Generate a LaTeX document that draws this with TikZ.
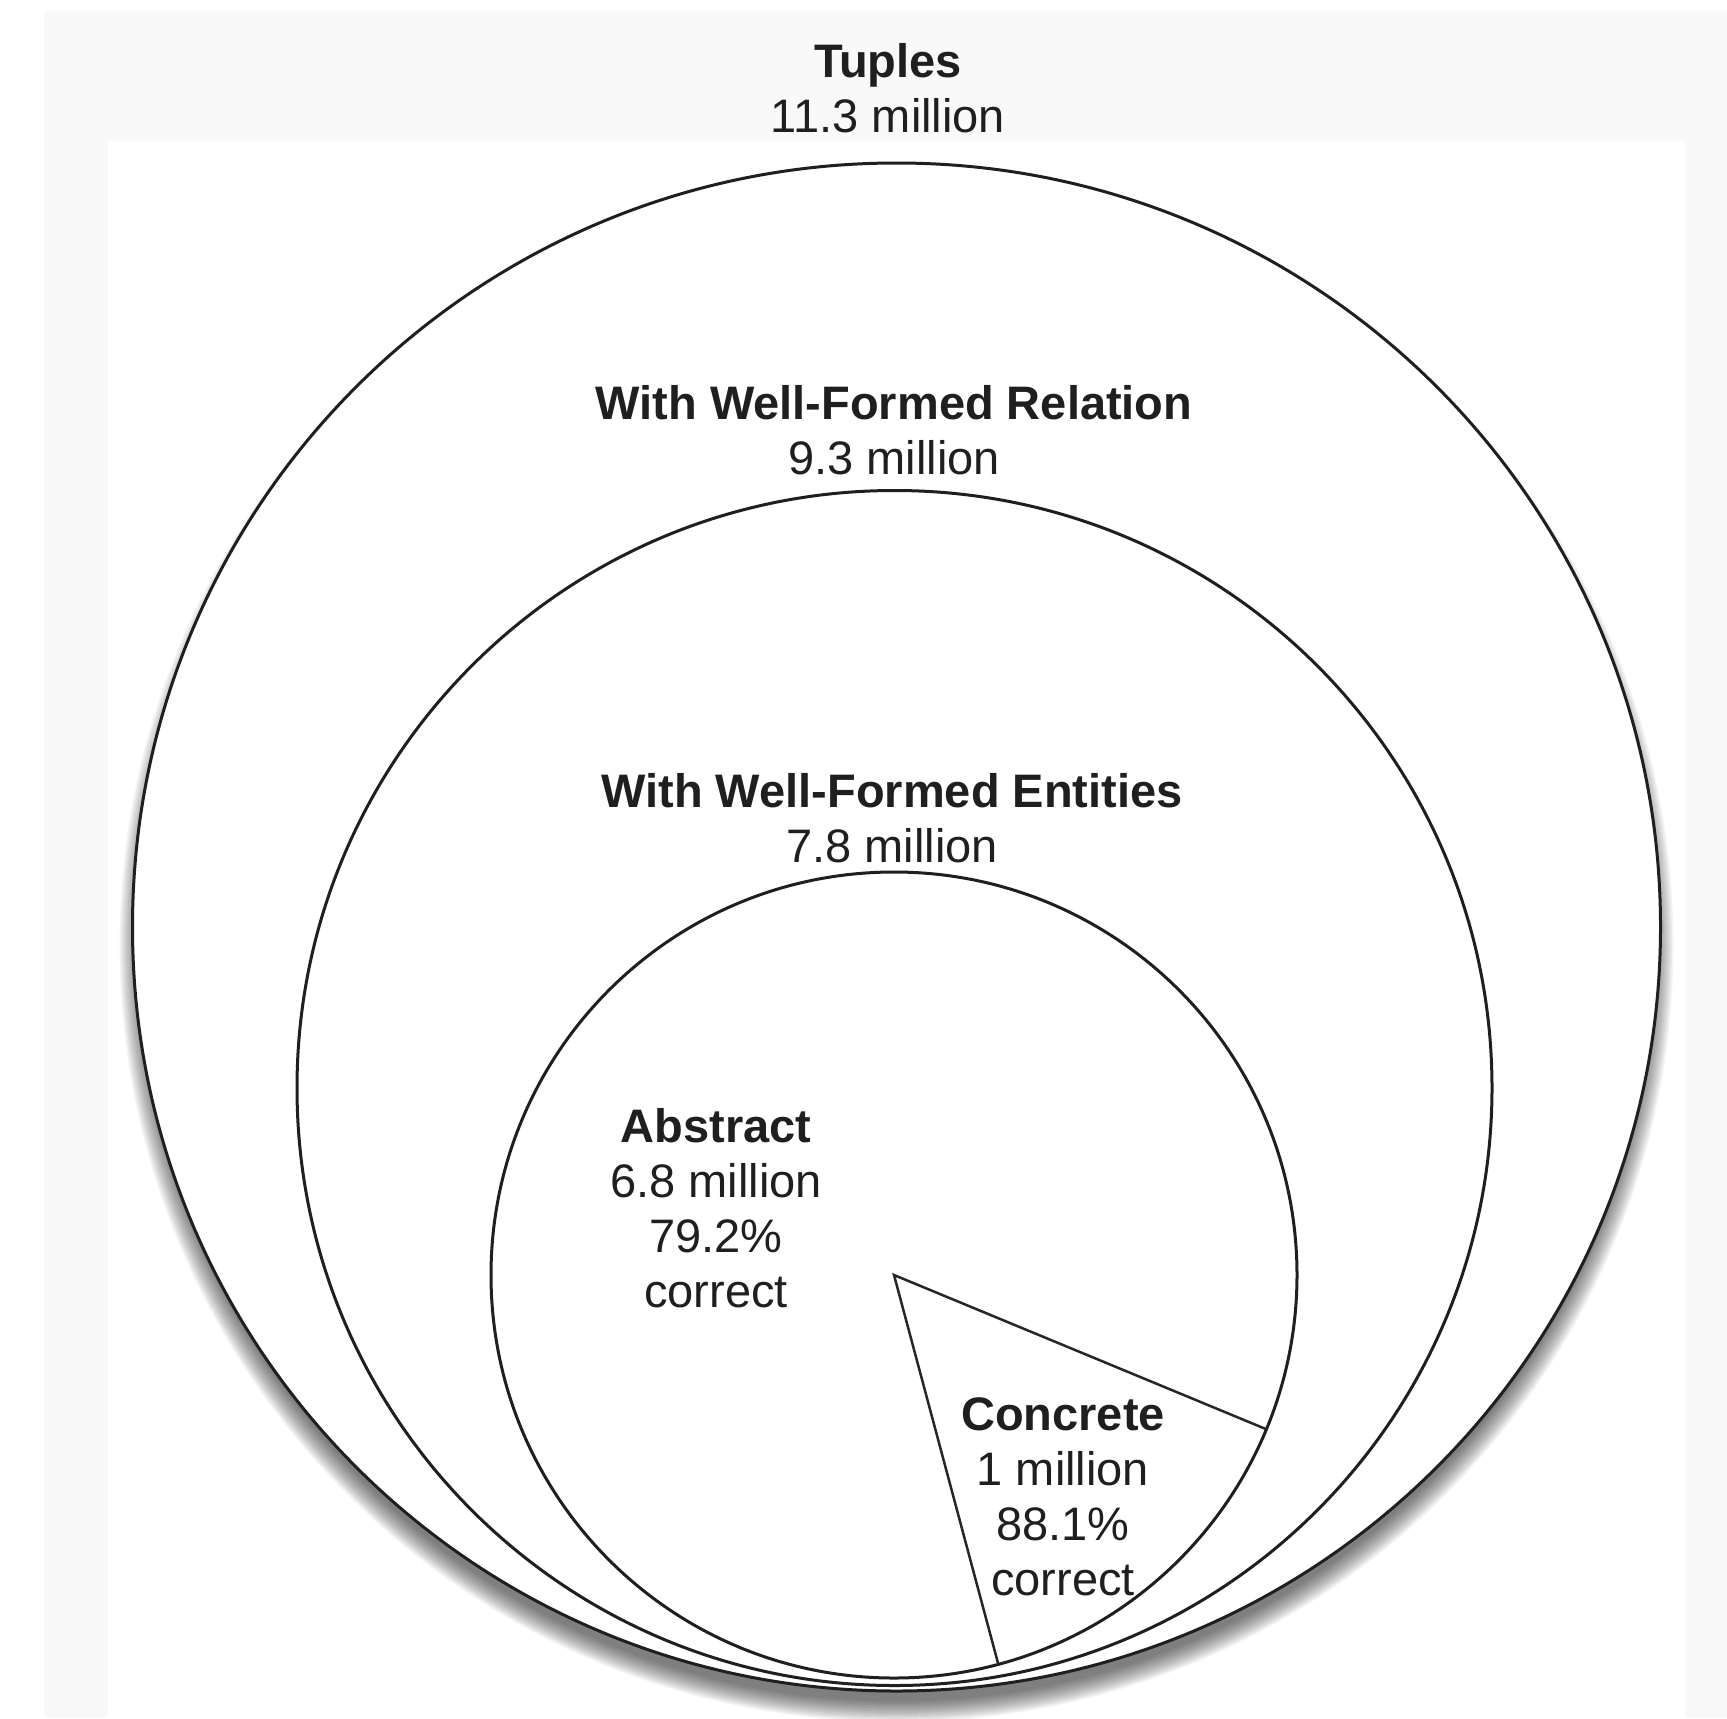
\documentclass[tikz,border=0pt]{standalone}
\usepackage{fontspec}
\setmainfont{Liberation Sans}
\begin{document}
\begin{tikzpicture}[x=0.5pt,y=-0.5pt,
  ring/.style={draw=black!88, line width=1.5pt},
  wedgeline/.style={draw=black!85, line width=1.25pt, line join=miter},
  lbl/.style={align=center, inner sep=0pt, text=black!88,
    font=\fontsize{23.5}{27.5}\selectfont}]
% canvas and paper
\useasboundingbox (0,0) rectangle (1727,1718);
\fill[white] (0,0) rectangle (1727,1718);
\fill[black!2.5] (44,11) rectangle (1727,1718);
\fill[white] (108,141) rectangle (1685,1718);

% centres of the nested sets
\coordinate (tupC) at (896.5,927);
\coordinate (relC) at (894.5,1088);
\coordinate (entC) at (894,1275);
\coordinate (shadowC) at (896.5,945);

% soft drop shadow under the outer circle
\foreach \k in {14,13,...,0}{
  \fill[black, opacity=0.042] (shadowC) circle[radius={378pt+0.75pt*\k}];
}
\fill[white] (tupC) circle[radius=382pt];

% nested sets
\draw[ring] (tupC) circle[radius=382pt];
\draw[ring] (relC) circle[radius=298.75pt];
\draw[ring] (entC) circle[radius=201.5pt];

% concrete slice of the entities circle
\path (entC) ++(-22.5:201.5pt) coordinate (sliceA);
\path (entC) ++(-75:201.5pt) coordinate (sliceB);
\draw[wedgeline] (sliceA) -- (entC) -- (sliceB);

% labels
\node[lbl] (tupL) at (888,88) {\textbf{Tuples}\\11.3 million};
\node[lbl] (relL) at (894,430) {\textbf{With Well-Formed Relation}\\9.3 million};
\node[lbl] (entL) at (892,818) {\textbf{With Well-Formed Entities}\\7.8 million};
\node[lbl] (absL) at (716,1208) {\textbf{Abstract}\\6.8 million\\79.2\%\\correct};
\node[lbl] (conL) at (1063,1497) {\textbf{Concrete}\\1 million\\88.1\%\\correct};
\end{tikzpicture}
\end{document}
